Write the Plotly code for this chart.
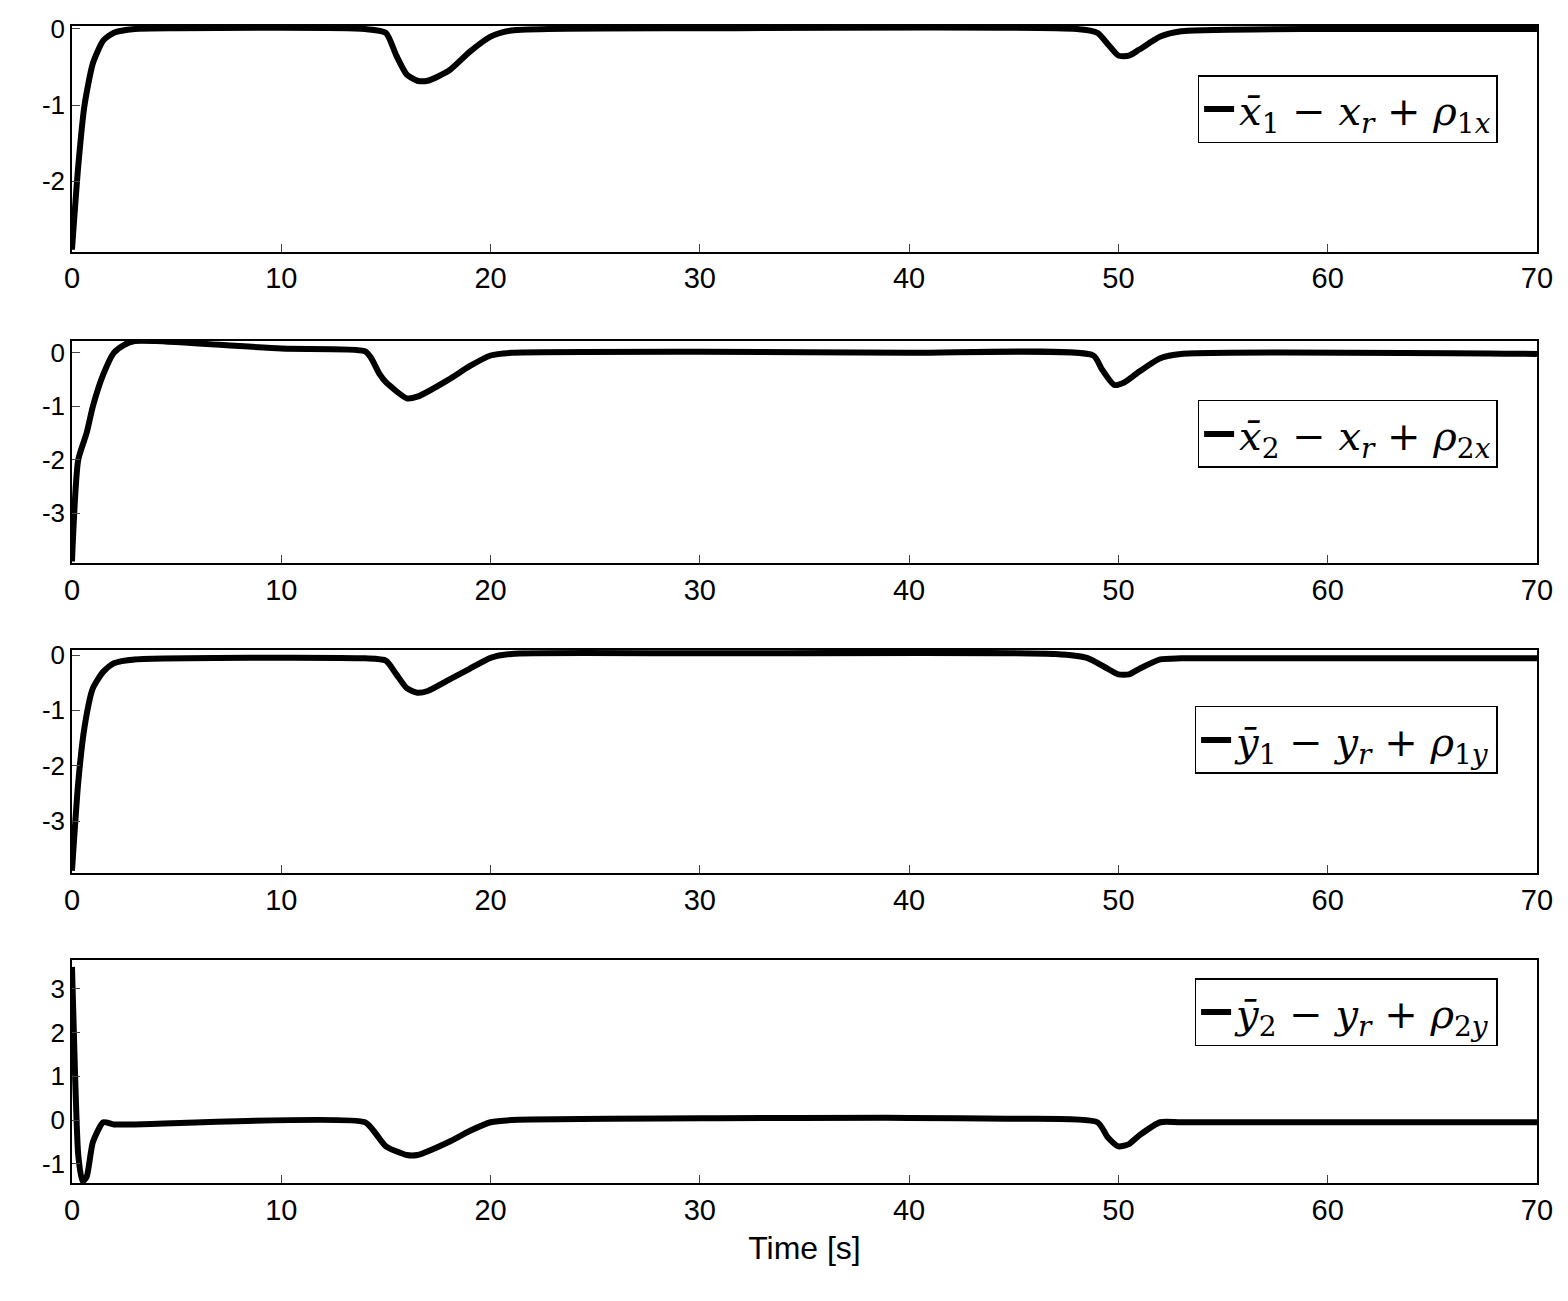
import plotly.graph_objects as go

t1 = [0,0.3,0.6,1,1.5,2,3,5,14,15,15.5,16,16.5,17,18,19,20,21,30,48,49,49.5,50,50.5,51,52,53,60,70]
v1 = [-2.9,-1.8,-1.0,-0.45,-0.15,-0.05,0,0.01,0,-0.05,-0.35,-0.6,-0.68,-0.68,-0.55,-0.3,-0.1,-0.02,0.01,0,-0.05,-0.2,-0.35,-0.35,-0.27,-0.1,-0.03,0,0]
t2 = [0,0.3,0.7,1,1.5,2,2.5,3,4,10,14,14.3,14.7,15,16,16.5,18,19,20,21,30,40,48.8,49.2,49.8,50.3,51,52,53,70]
v2 = [-3.9,-2,-1.5,-1.0,-0.4,0,0.15,0.22,0.22,0.08,0.03,-0.1,-0.4,-0.55,-0.85,-0.82,-0.5,-0.25,-0.05,0,0.02,0,-0.05,-0.3,-0.6,-0.55,-0.35,-0.1,-0.02,-0.02]
t3 = [0,0.3,0.6,1,1.5,2,3,14,15,15.5,16,16.5,17,18,19,20,21,30,47,48.5,49.5,50,50.5,51,52,53,70]
v3 = [-3.9,-2.3,-1.3,-0.6,-0.3,-0.15,-0.08,-0.06,-0.1,-0.35,-0.6,-0.68,-0.65,-0.45,-0.25,-0.05,0.02,0.03,0.02,-0.05,-0.25,-0.35,-0.35,-0.25,-0.08,-0.06,-0.06]
t4 = [0,0.15,0.3,0.5,0.7,1,1.5,2,3,14,14.5,15,16,16.5,18,19,20,21,40,45,49,49.5,50,50.5,51,52,53,70]
v4 = [3.5,1.0,-0.8,-1.4,-1.3,-0.5,-0.05,-0.1,-0.1,-0.05,-0.3,-0.6,-0.8,-0.8,-0.5,-0.25,-0.05,0,0.05,0.03,-0.05,-0.4,-0.6,-0.55,-0.35,-0.05,-0.05,-0.05]

names = ["<i>x̄</i><sub>1</sub> − <i>x<sub>r</sub></i> + <i>ρ</i><sub>1<i>x</i></sub>",
         "<i>x̄</i><sub>2</sub> − <i>x<sub>r</sub></i> + <i>ρ</i><sub>2<i>x</i></sub>",
         "<i>ȳ</i><sub>1</sub> − <i>y<sub>r</sub></i> + <i>ρ</i><sub>1<i>y</i></sub>",
         "<i>ȳ</i><sub>2</sub> − <i>y<sub>r</sub></i> + <i>ρ</i><sub>2<i>y</i></sub>"]
yranges = [[-2.93,0.04],[-3.93,0.22],[-3.94,0.09],[-1.44,3.66]]
ytickvals = [[0,-1,-2],[0,-1,-2,-3],[0,-1,-2,-3],[3,2,1,0,-1]]
doms = [[0.8125,0.9862],[0.5734,0.744],[0.3351,0.5065],[0.0968,0.2683]]
legy = [0.9485,0.6987,0.4635,0.2544]
xt = list(range(0,71,10))

fig = go.Figure()
data = [(t1,v1),(t2,v2),(t3,v3),(t4,v4)]
for i,(t,v) in enumerate(data):
    k = "" if i == 0 else str(i+1)
    fig.add_trace(go.Scatter(x=t, y=v, mode="lines", line=dict(color="black", width=6, shape="spline", smoothing=0.6),
                             name=names[i], xaxis="x"+k, yaxis="y"+k, legend="legend"+k, showlegend=True))
    ax = dict(range=[0,70], tickvals=xt, ticktext=[str(a) for a in xt], showline=True, linecolor="black", linewidth=1.5,
              mirror=True, ticks="inside", ticklen=8, showgrid=False, zeroline=False, automargin=False,
              domain=[0.0408,0.9751], anchor="y"+k, tickfont=dict(size=29, family="Liberation Sans", color="black"))
    ay = dict(range=yranges[i], tickvals=ytickvals[i], ticktext=[str(a) for a in ytickvals[i]],
              showline=True, linecolor="black", linewidth=1.5, automargin=False,
              mirror=True, ticks="inside", ticklen=8, showgrid=False, zeroline=False,
              domain=doms[i], anchor="x"+k, tickfont=dict(size=26, family="Liberation Sans", color="black"))
    if i == 3:
        ax["title"] = dict(text="Time [s]", font=dict(size=32, family="Liberation Sans", color="black"), standoff=12)
    fig.layout["xaxis"+k] = ax
    fig.layout["yaxis"+k] = ay
    fig.layout["legend"+k] = dict(x=0.95, y=legy[i], xanchor="right", yanchor="top", bgcolor="white",
                                  bordercolor="black", borderwidth=1.5,
                                  font=dict(size=40, family="DejaVu Serif", color="black"))

fig.update_layout(width=1568, height=1301, margin=dict(l=0,r=0,t=0,b=0, autoexpand=False),
                  plot_bgcolor="white", paper_bgcolor="white")
fig.write_html("out.html")
